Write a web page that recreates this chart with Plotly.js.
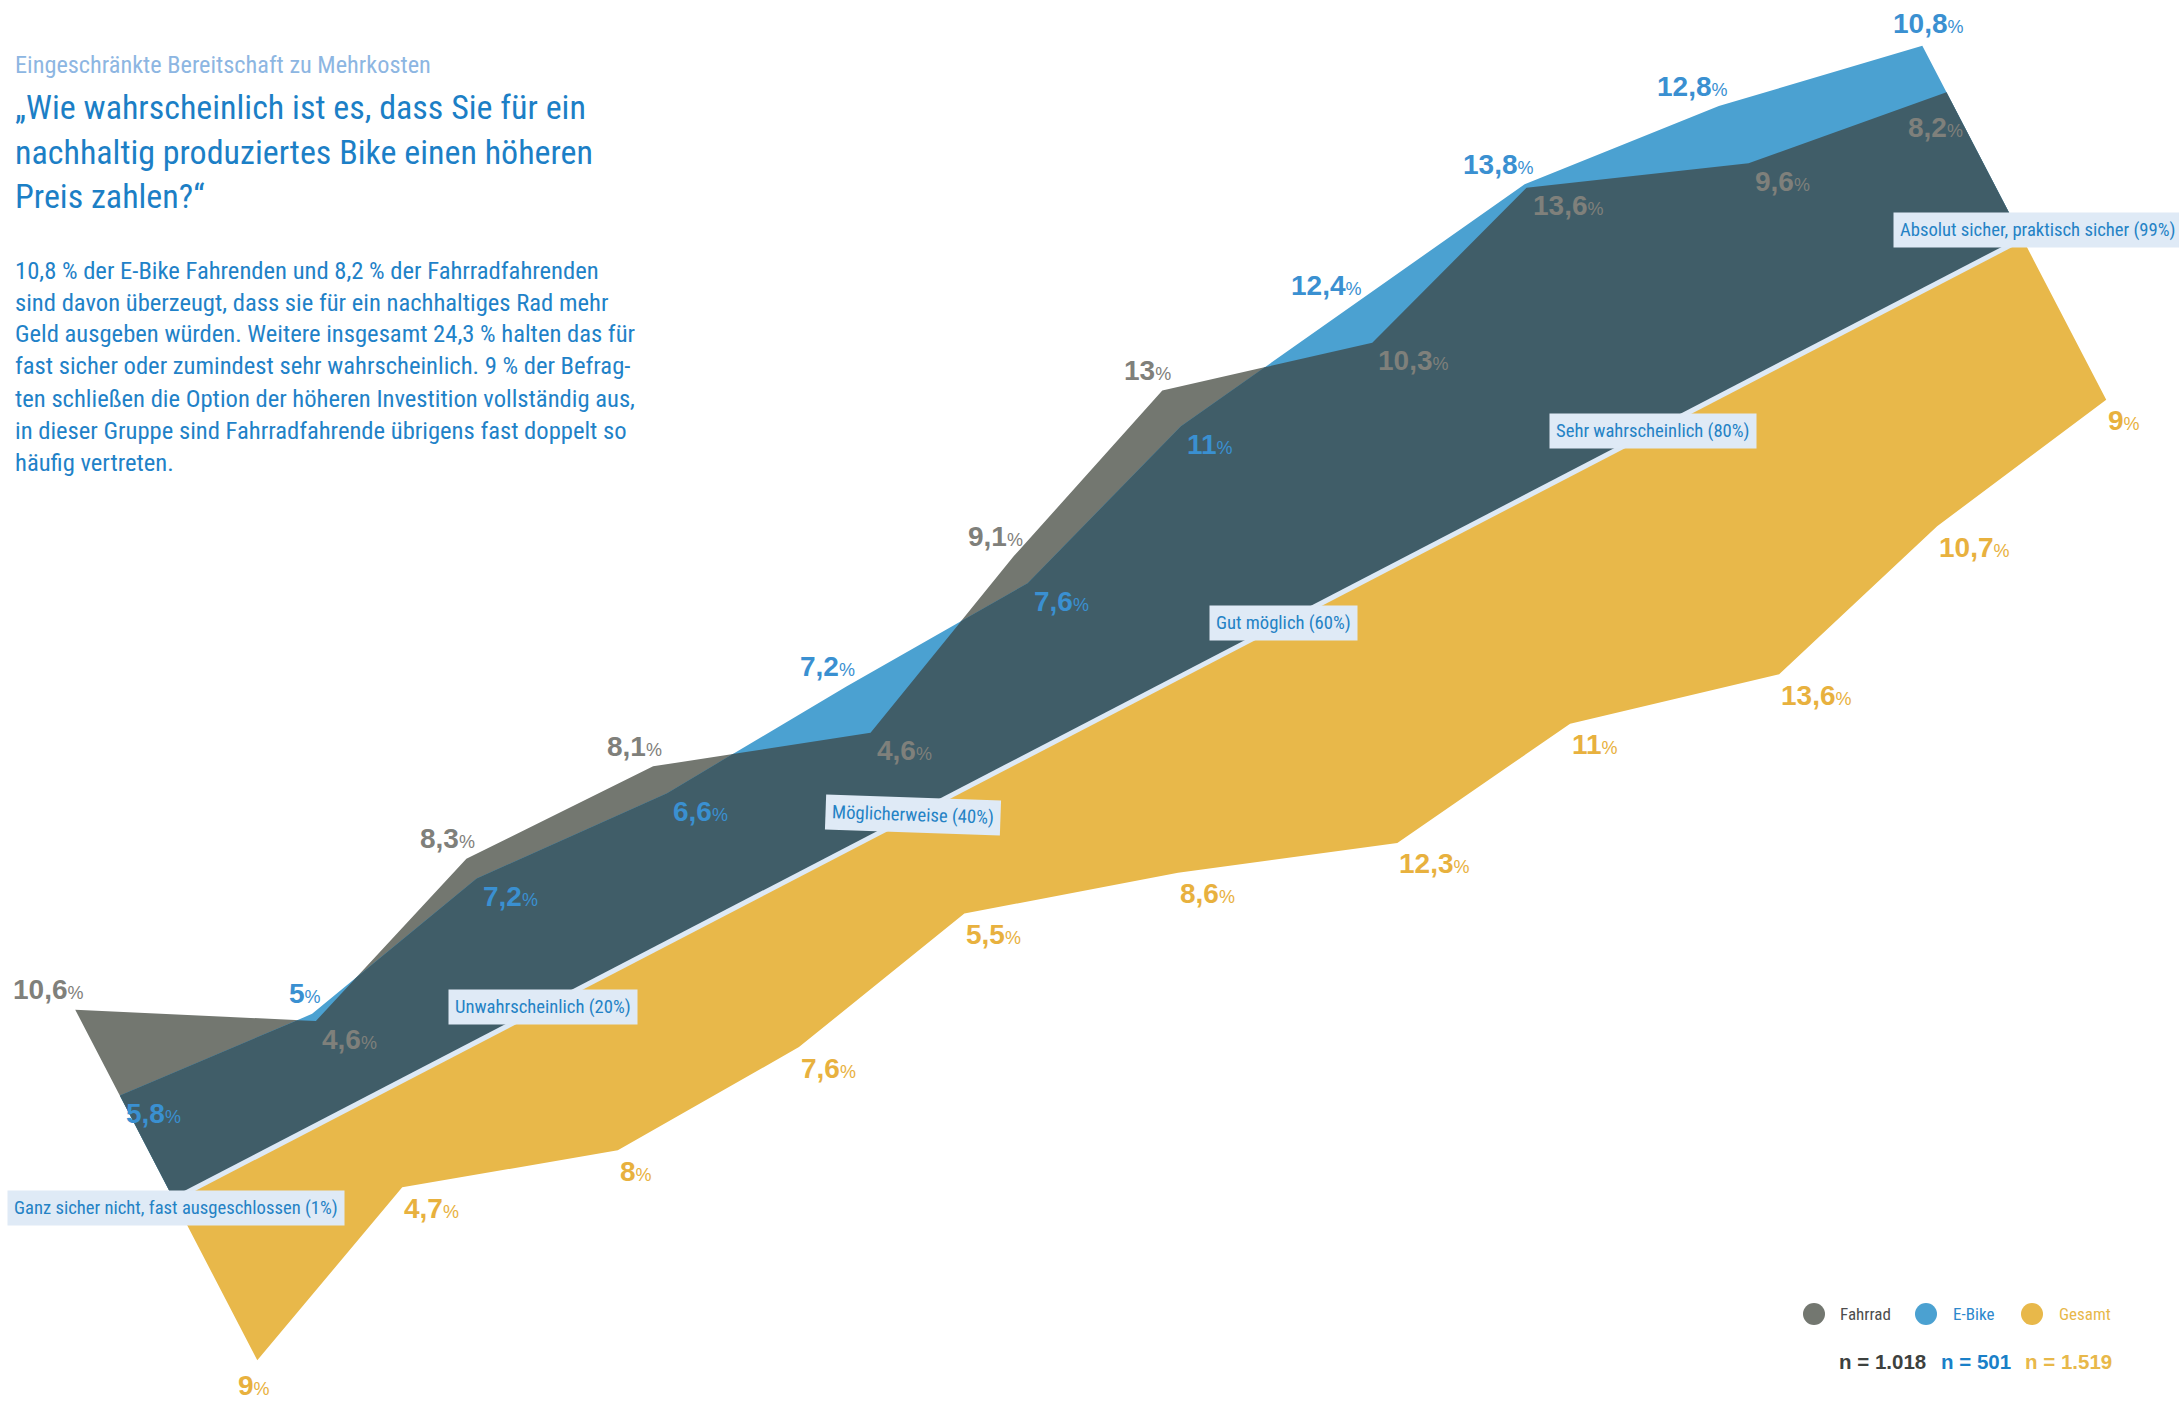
<!DOCTYPE html>
<html>
<head>
<meta charset="utf-8">
<script src="https://cdn.plot.ly/plotly-3.0.1.min.js"></script>
<style>
  html, body { margin: 0; padding: 0; background: #ffffff; overflow: hidden; }
  #chart { width: 2179px; height: 1401px; }
</style>
</head>
<body>
<div id="chart"></div>
<script>
// Answer scale, laid out along the diagonal (11 steps)
const steps = ['1%', '10%', '20%', '30%', '40%', '50%', '60%', '70%', '80%', '90%', '99%'];
const scaleLabels = [
  'Ganz sicher nicht, fast ausgeschlossen (1%)',
  'Unwahrscheinlich (20%)',
  'Möglicherweise (40%)',
  'Gut möglich (60%)',
  'Sehr wahrscheinlich (80%)',
  'Absolut sicher, praktisch sicher (99%)'
];
const scaleLabelSteps = [0, 2, 4, 6, 8, 10];

// Share of respondents per answer step, in percent
const fahrrad = [10.6, 4.6, 8.3, 8.1, 4.6, 9.1, 13, 10.3, 13.6, 9.6, 8.2];
const ebike   = [5.8, 5, 7.2, 6.6, 7.2, 7.6, 11, 12.4, 13.8, 12.8, 10.8];
const gesamt  = [9, 4.7, 8, 7.6, 5.5, 8.6, 12.3, 11, 13.6, 10.7, 9];

const seriesNames = ['Fahrrad', 'E-Bike', 'Gesamt'];
const sampleSizes = ['n = 1.018', 'n = 501', 'n = 1.519'];

const subtitle = 'Eingeschränkte Bereitschaft zu Mehrkosten';
const titleLines = [
  '„Wie wahrscheinlich ist es, dass Sie für ein',
  'nachhaltig produziertes Bike einen höheren',
  'Preis zahlen?“'
];
const bodyLines = [
  '10,8 % der E-Bike Fahrenden und 8,2 % der Fahrradfahrenden',
  'sind davon überzeugt, dass sie für ein nachhaltiges Rad mehr',
  'Geld ausgeben würden. Weitere insgesamt 24,3 % halten das für',
  'fast sicher oder zumindest sehr wahrscheinlich. 9 % der Befrag-',
  'ten schließen die Option der höheren Investition vollständig aus,',
  'in dieser Gruppe sind Fahrradfahrende übrigens fast doppelt so',
  'häufig vertreten.'
];

// ---- geometry of the tilted chart ----
const W = 2179, H = 1401;
const PX = 20.15;                  // pixels per percentage point
const ORIGIN = [173.7, 1199.3];    // page position of the first answer step
const ANG = 27.45 * Math.PI / 180; // tilt of the answer axis
const STEP = 10.34;                // distance between answer steps, in percentage points

// u = answer step index along the diagonal, v = share perpendicular to it
function pt(u, v) {
  return [u * STEP * Math.cos(ANG) - v * Math.sin(ANG),
          u * STEP * Math.sin(ANG) + v * Math.cos(ANG)];
}

function profile(vals, sign) {
  return vals.map((v, i) => [i, sign * v]);
}

// lower envelope of two series, including crossing points
function lowerProfile(a, b) {
  const out = [];
  for (let i = 0; i < a.length; i++) {
    out.push([i, Math.min(a[i], b[i])]);
    if (i < a.length - 1) {
      const d0 = a[i] - b[i], d1 = a[i + 1] - b[i + 1];
      if (d0 * d1 < 0) {
        const t = d0 / (d0 - d1);
        out.push([i + t, a[i] + t * (a[i + 1] - a[i])]);
      }
    }
  }
  return out;
}

function bandTrace(prof, color) {
  const last = steps.length - 1;
  const pts = [pt(0, 0), pt(last, 0)];
  for (let k = prof.length - 1; k >= 0; k--) pts.push(pt(prof[k][0], prof[k][1]));
  return {
    type: 'scatter', mode: 'lines',
    x: pts.map(p => p[0]), y: pts.map(p => p[1]),
    fill: 'toself', fillcolor: color,
    line: { width: 0, color: color },
    hoverinfo: 'skip', showlegend: false
  };
}

const C = {
  grey: '#737770', blue: '#4ba1d1', dark: '#405d68', yellow: '#e8b84a',
  strip: '#dde9f5', greyText: '#7f807b', blueText: '#3a90d1', yellowText: '#e8b13e'
};

// ---- fonts: prefer a condensed face, shrink to the column width otherwise ----
const NARROW = '"Roboto Condensed", "Liberation Sans Narrow", "Arial Narrow", "DejaVu Sans Condensed", "Liberation Sans", sans-serif';
const BOLD = '"Liberation Sans", Arial, sans-serif';
const measureCtx = document.createElement('canvas').getContext('2d');
function textWidth(txt, size, family, weight) {
  measureCtx.font = (weight || 'normal') + ' ' + size + 'px ' + family;
  return measureCtx.measureText(txt).width;
}
function fitSize(txt, nominal, family, maxWidth, weight) {
  const w = textWidth(txt, nominal, family, weight);
  return Math.min(nominal, nominal * maxWidth / w);
}

const traces = [
  bandTrace(profile(gesamt, -1), C.yellow),
  bandTrace(profile(fahrrad, 1), C.grey),
  bandTrace(profile(ebike, 1), C.blue),
  bandTrace(lowerProfile(fahrrad, ebike), C.dark),
  {
    type: 'scatter', mode: 'lines',
    x: [pt(0, 0)[0], pt(steps.length - 1, 0)[0]],
    y: [pt(0, 0)[1], pt(steps.length - 1, 0)[1]],
    line: { color: C.strip, width: 5 },
    hoverinfo: 'skip', showlegend: false
  }
];

// ---- value labels ----
const OFFSETS = {
  out:        { xanchor: 'right',  dx: 11,  dy: 20 },
  in:         { xanchor: 'left',   dx: 4,   dy: -18 },
  outEnd:     { xanchor: 'center', dx: 6,   dy: 22 },
  inEnd:      { xanchor: 'center', dx: -11, dy: -35 },
  below:      { xanchor: 'left',   dx: 0,   dy: -21 },
  belowStart: { xanchor: 'center', dx: -3,  dy: -25 }
};

function fmt(v) {
  return '<b>' + String(v).replace('.', ',') + '</b><span style="font-size:18px">%</span>';
}

const annotations = [];
const shapes = [];
function addLabel(i, v, sign, place, color) {
  const p = pt(i, sign * v);
  const o = OFFSETS[place];
  annotations.push({
    x: p[0], y: p[1], xref: 'x', yref: 'y', showarrow: false,
    text: fmt(v), xanchor: o.xanchor, yanchor: 'middle',
    xshift: o.dx, yshift: o.dy,
    font: { family: BOLD, size: 28, color: color }
  });
}

const lastStep = steps.length - 1;
for (let i = 0; i < steps.length; i++) {
  const fUp = fahrrad[i] > ebike[i];
  const end = i === lastStep;
  addLabel(i, fahrrad[i], 1, fUp ? (end ? 'outEnd' : 'out') : (end ? 'inEnd' : 'in'), C.greyText);
  addLabel(i, ebike[i], 1, fUp ? (end ? 'inEnd' : 'in') : (end ? 'outEnd' : 'out'), C.blueText);
  addLabel(i, gesamt[i], -1, i === 0 ? 'belowStart' : 'below', C.yellowText);
}

// ---- answer scale labels on the diagonal ----
const boxSize = fitSize(scaleLabels[0], 19.5, NARROW, 324);
scaleLabels.forEach((txt, k) => {
  const s = scaleLabelSteps[k];
  const p = pt(s, 0);
  const a = {
    x: p[0], y: p[1], xref: 'x', yref: 'y', showarrow: false,
    text: txt, xanchor: 'center', yanchor: 'middle',
    bgcolor: '#dfeaf6', borderpad: 6,
    font: { family: NARROW, size: boxSize, color: '#2482c5' }
  };
  if (s === 0) { a.xanchor = 'left'; a.xshift = -167; a.yshift = -9; }
  if (s === lastStep) { a.xanchor = 'left'; a.xshift = -130; a.yshift = 9; }
  if (s === 4) { a.textangle = 2; }
  annotations.push(a);
});

// ---- headline and text block ----
function paperX(px) { return px / W; }
function paperY(py) { return 1 - py / H; }

function addLine(txt, left, centerY, size, color, family) {
  annotations.push({
    xref: 'paper', yref: 'paper', x: paperX(left), y: paperY(centerY),
    xanchor: 'left', yanchor: 'middle', showarrow: false, align: 'left',
    text: txt, font: { family: family || NARROW, size: size, color: color }
  });
}

addLine(subtitle, 13, 65, fitSize(subtitle, 24.5, NARROW, 416), '#8db6e2');

const titleSize = fitSize(titleLines[1], 34, NARROW, 586);
titleLines.forEach((t, k) => addLine(t, 13, 107 + 44.5 * k, titleSize, '#1c7fc6'));

const bodySize = fitSize(bodyLines[4], 25, NARROW, 620);
bodyLines.forEach((t, k) => addLine(t, 13, 270 + 32 * k, bodySize, '#1f82c8'));

// ---- legend: coloured dots with series names, sample sizes below ----
const legendDots = [C.grey, C.blue, C.yellow];
const legendTextColors = ['#4d4d4d', '#2c88cc', '#e8b84a'];
const dotCenters = [1814, 1926, 2032];
const nameLeft = [1838, 1951, 2057];
const legendSize = fitSize(seriesNames[0], 19, NARROW, 51);
seriesNames.forEach((n, k) => {
  shapes.push({
    type: 'circle', xref: 'paper', yref: 'paper',
    xsizemode: 'pixel', ysizemode: 'pixel',
    xanchor: paperX(dotCenters[k]), yanchor: paperY(1314),
    x0: -11, x1: 11, y0: -11, y1: 11,
    fillcolor: legendDots[k], line: { width: 0 }
  });
  addLine(n, nameLeft[k], 1314, legendSize, legendTextColors[k]);
});

const nColors = ['#3d413e', '#1a80c8', '#e8b84a'];
const nLeft = [1837, 1939, 2023];
sampleSizes.forEach((t, k) => {
  annotations.push({
    xref: 'paper', yref: 'paper', x: paperX(nLeft[k]), y: paperY(1361),
    xanchor: 'left', yanchor: 'middle', showarrow: false,
    text: '<b>' + t + '</b>',
    font: { family: BOLD, size: 20.5, color: nColors[k] }
  });
});

const layout = {
  width: W, height: H,
  margin: { l: 0, r: 0, t: 0, b: 0, autoexpand: false },
  paper_bgcolor: '#ffffff', plot_bgcolor: '#ffffff',
  xaxis: { range: [-ORIGIN[0] / PX, (W - ORIGIN[0]) / PX], visible: false, fixedrange: true },
  yaxis: { range: [-(H - ORIGIN[1]) / PX, ORIGIN[1] / PX], visible: false, fixedrange: true },
  showlegend: false,
  hovermode: false,
  shapes: shapes,
  annotations: annotations
};

Plotly.newPlot('chart', traces, layout, { staticPlot: true, displayModeBar: false });
</script>
</body>
</html>
